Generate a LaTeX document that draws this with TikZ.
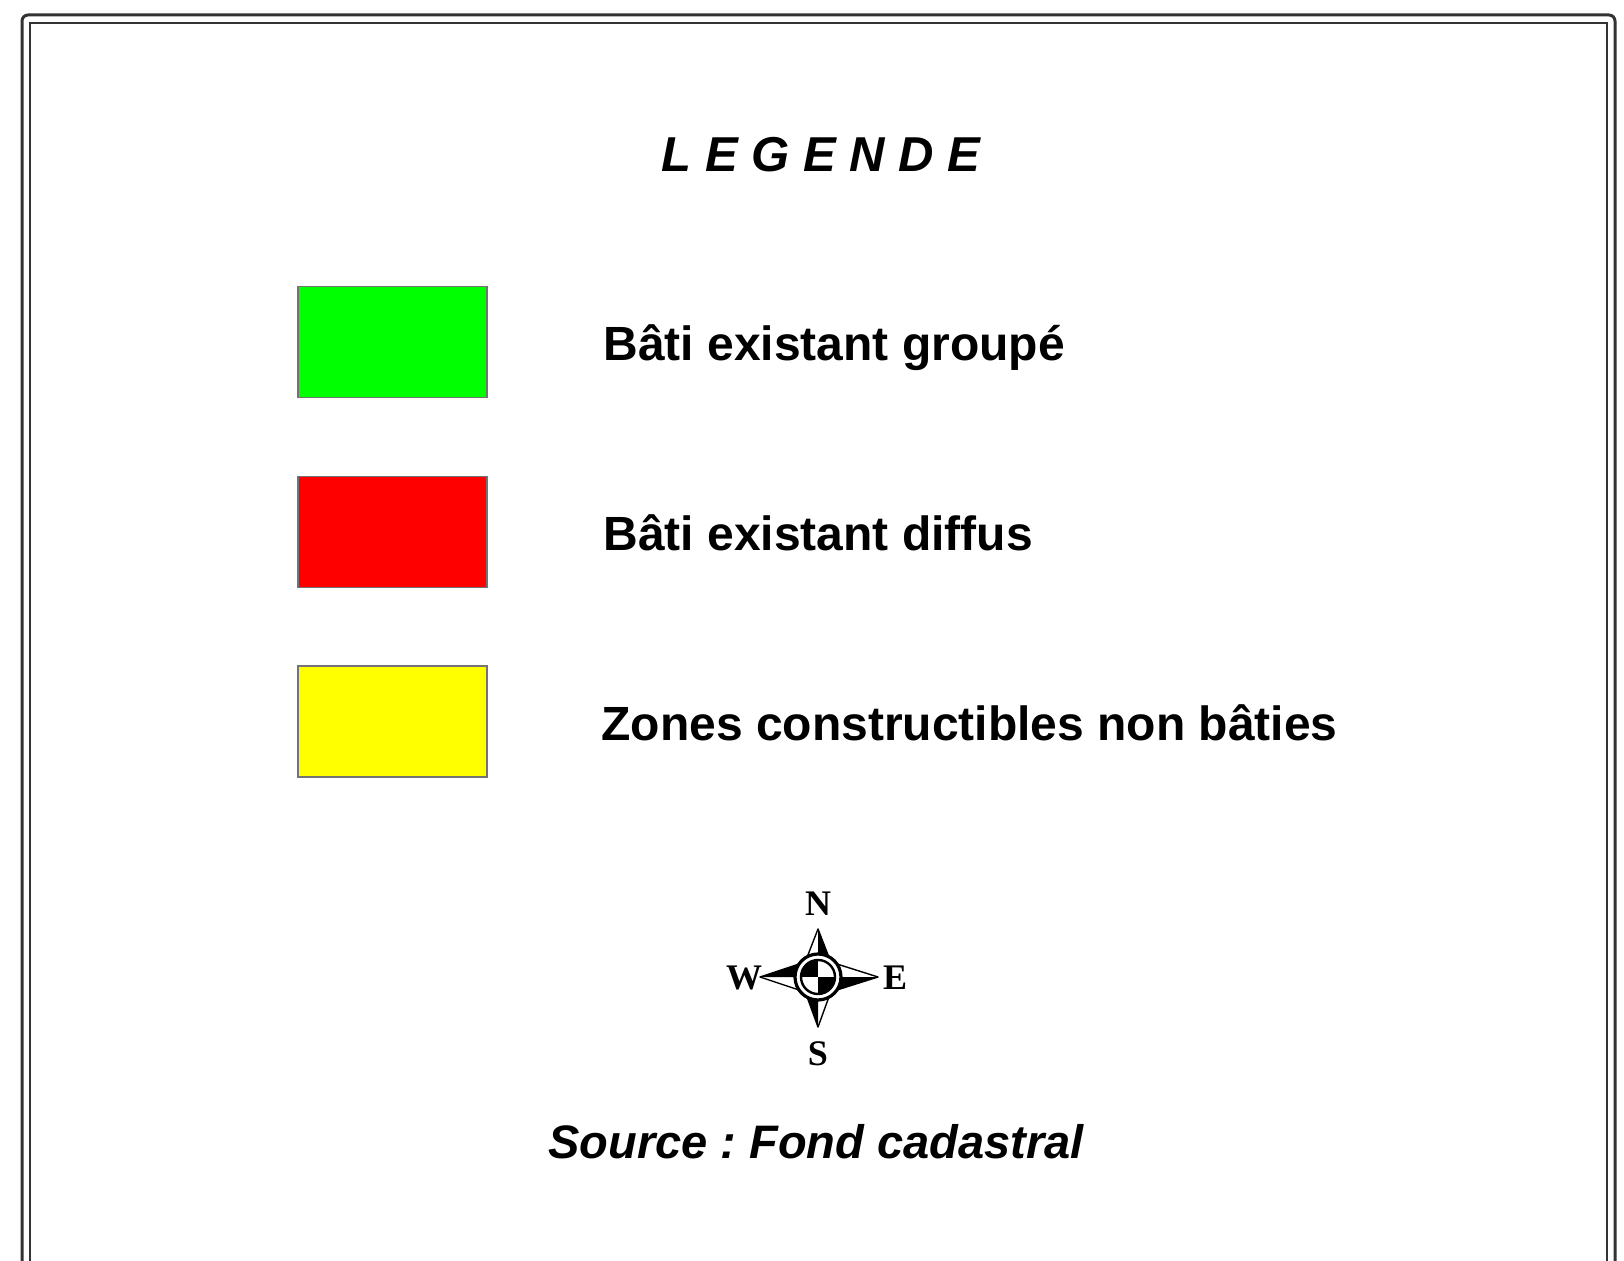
\documentclass[tikz,border=0pt]{standalone}
\usepackage{fontspec}
\setmainfont{Liberation Sans}
\newfontfamily\rosefont{Liberation Serif}
\usepackage{xcolor}
\usepackage{tikz}
\usetikzlibrary{positioning}
\frenchspacing

\begin{document}
\begin{tikzpicture}[x=0.5pt, y=-0.5pt,
	swatch/.style={rectangle, draw=black!55, line width=0.6pt, minimum width=94.5pt, minimum height=55.5pt, inner sep=0pt},
	entry/.style={anchor=base west, inner sep=0pt, font=\fontsize{24}{28}\selectfont\bfseries},
	point/.style={inner sep=0pt, font=\fontsize{18}{21}\selectfont\rosefont\bfseries}]
	\useasboundingbox (0,0) rectangle (1624,1261);
	\fill[white] (0,0) rectangle (1624,1261);

	% double frame, open at the bottom
	\draw[black!80, line width=1.5pt, rounded corners=3pt] (22,1280) -- (22,15) -- (1615,15) -- (1615,1280);
	\draw[black!80, line width=1.3pt] (30,1280) -- (30,23) -- (1607,23) -- (1607,1280);

	\node[anchor=base, inner sep=0pt, font=\fontsize{24.5}{29}\selectfont\bfseries\itshape] (title) at (821,172) {L E G E N D E};

	\node[swatch, fill={rgb,255:red,0;green,255;blue,0}] (sw1) at (392.5,342) {};
	\node[swatch, fill={rgb,255:red,255;green,0;blue,0}] (sw2) at (392.5,532) {};
	\node[swatch, fill={rgb,255:red,255;green,255;blue,0}] (sw3) at (392.5,721.5) {};

	\node[entry] (lb1) at (603,361) {Bâti existant groupé};
	\node[entry] (lb2) at (603,551) {Bâti existant diffus};
	\node[entry] (lb3) at (601,741) {Zones constructibles non bâties};

	% wind rose
	\coordinate (rose) at (818,977);
	\begin{scope}[shift={(rose)}, line width=0.7pt, line join=round]
		\filldraw[fill=white] (0,-48) -- (12,-17) -- (0,0) -- (-12,-17) -- cycle;
		\fill (0,-48) -- (12,-17) -- (0,0) -- cycle;
		\filldraw[fill=white] (60,0) -- (19,13) -- (0,0) -- (19,-13) -- cycle;
		\fill (60,0) -- (19,13) -- (0,0) -- cycle;
		\filldraw[fill=white] (0,50) -- (-12,17) -- (0,0) -- (12,17) -- cycle;
		\fill (0,50) -- (-12,17) -- (0,0) -- cycle;
		\filldraw[fill=white] (-58,0) -- (-19,-13) -- (0,0) -- (-19,13) -- cycle;
		\fill (-58,0) -- (-19,-13) -- (0,0) -- cycle;
		\filldraw[fill=white, line width=1.6pt] (0,0) circle[radius=23];
		\begin{scope}
			\clip (0,0) circle[radius=17];
			\fill (0,0) rectangle (-17,-17);
			\fill (0,0) rectangle (17,17);
		\end{scope}
		\draw[line width=1.2pt] (0,0) circle[radius=17];
	\end{scope}
	\node[point] (north) at (818,904) {N};
	\node[point] (east) at (895,978) {E};
	\node[point] (south) at (818,1054) {S};
	\node[point] (west) at (744,978) {W};

	\node[anchor=base, inner sep=0pt, font=\fontsize{23.5}{28}\selectfont\bfseries\itshape] (source) at (816,1158) {Source : Fond cadastral};
\end{tikzpicture}
\end{document}
